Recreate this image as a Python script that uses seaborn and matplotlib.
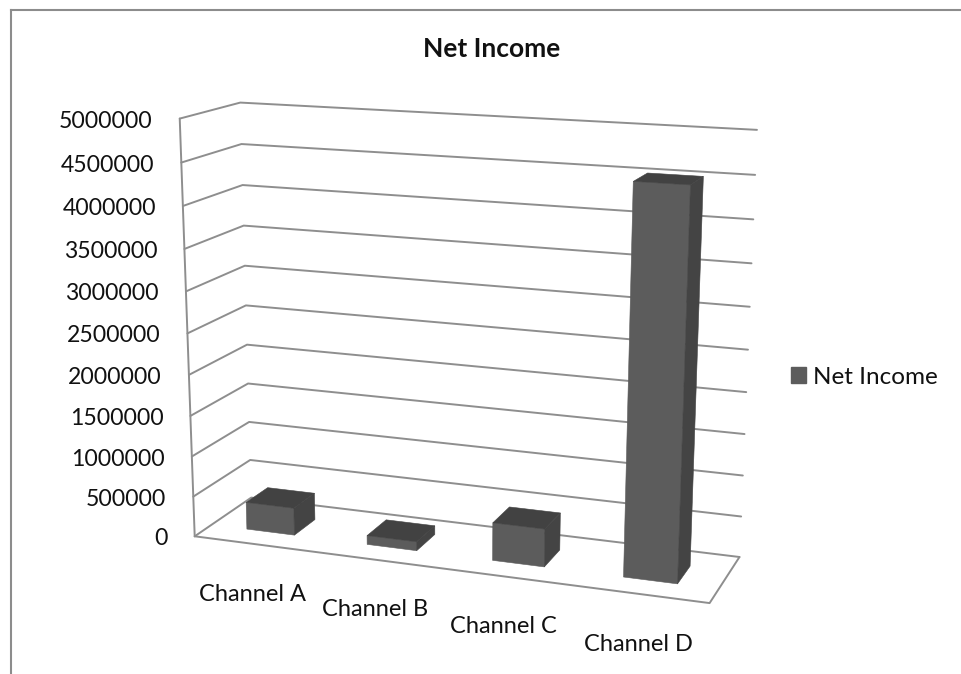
import numpy as np
import pandas as pd
import matplotlib
matplotlib.use("Agg")
import matplotlib.pyplot as plt
from matplotlib.patches import Patch
import seaborn as sns

# Chart content
title = "Net Income"
categories = ["Channel A", "Channel B", "Channel C", "Channel D"]
net_income = [340000, 110000, 460000, 4530000]
tick_values = [0, 500000, 1000000, 1500000, 2000000, 2500000,
               3000000, 3500000, 4000000, 4500000, 5000000]
axis_max = 5000000

# Colours
GRID = "#8e8e8e"
FRAME = "#8c8c8c"
FRONT = "#5c5c5c"
SIDE = "#444444"
TOP = "#424242"

# Pixel positions of the plot box corners as (across, depth, height) -> (x, y)
box_world = np.array([(0, 0, 0), (0, 1, 0), (1, 1, 0), (1, 0, 0),
                      (0, 0, 1), (0, 1, 1), (1, 1, 1)], dtype=float)
box_pixel = np.array([(195, 536), (251, 498), (740, 556), (709, 604),
                      (180, 118), (240, 103), (757, 130)], dtype=float)


def fit_camera(world, pixel):
    """Solve the 3x4 perspective matrix from box corners."""
    rows = []
    for (a, b, c), (x, y) in zip(world, pixel):
        rows.append([a, b, c, 1, 0, 0, 0, 0, -x * a, -x * b, -x * c, -x])
        rows.append([0, 0, 0, 0, a, b, c, 1, -y * a, -y * b, -y * c, -y])
    return np.linalg.svd(np.array(rows))[2][-1].reshape(3, 4)


CAMERA = fit_camera(box_world, box_pixel)


def project(u, v, value):
    """Map category position, depth and value to figure pixels."""
    p = CAMERA @ np.array([u, v, value / axis_max, 1.0])
    return p[0] / p[2], p[1] / p[2]


sns.set_theme(style="white", rc={"axes.edgecolor": FRAME, "axes.linewidth": 1.5})
plt.rcParams["font.family"] = ["Lato", "DejaVu Sans"]

fig = plt.figure(figsize=(9.62, 6.74), dpi=100, facecolor="white")
ax = fig.add_axes([11 / 962, 0, 951 / 962, 664 / 674])

# Walls: each gridline runs front-left -> back-left -> back-right
grid_rows = []
for level in tick_values:
    for u, v in [(0, 0), (0, 1), (1, 1)]:
        x, y = project(u, v, level)
        grid_rows.append({"level": f"w{level}", "x": x, "y": y})
# Floor outline and the vertical value axis
for name, path in {
    "floor": [(0, 0, 0), (1, 0, 0), (1, 1, 0)],
    "axis": [(0, 0, 0), (0, 0, axis_max)],
}.items():
    for u, v, w in path:
        x, y = project(u, v, w)
        grid_rows.append({"level": name, "x": x, "y": y})
sns.lineplot(data=pd.DataFrame(grid_rows), x="x", y="y", units="level",
             estimator=None, sort=False, color=GRID, lw=1.4, ax=ax,
             legend=False, zorder=1)

# Bars
bar_width = 0.40
depth_front, depth_back = 0.29, 0.68
for i, value in enumerate(net_income):
    u0 = (i + 0.5) / len(categories) - bar_width / len(categories) / 2
    u1 = u0 + bar_width / len(categories)
    faces = [
        ([(u0, depth_front, 0), (u1, depth_front, 0),
          (u1, depth_front, value), (u0, depth_front, value)], FRONT),
        ([(u1, depth_front, 0), (u1, depth_back, 0),
          (u1, depth_back, value), (u1, depth_front, value)], SIDE),
        ([(u0, depth_front, value), (u1, depth_front, value),
          (u1, depth_back, value), (u0, depth_back, value)], TOP),
    ]
    for corners, colour in faces:
        xy = np.array([project(*c) for c in corners])
        ax.fill(xy[:, 0], xy[:, 1], color=colour, lw=0.4, zorder=3 + i)

# Value labels sit left of the front edge
for level in tick_values:
    x, y = project(0, 0, level)
    ax.text(x - 27, y + 2.5, str(level), ha="right", va="center",
            fontsize=16.6, color="#111111", zorder=6)

# Category labels below the front edge of the floor
for i, name in enumerate(categories):
    x, y = project((i + 0.5) / len(categories), 0, 0)
    ax.text(x - 2, y + 50, name, ha="center", va="center",
            fontsize=17, color="#111111", zorder=6)

ax.text(491.5, 49, title, ha="center", va="center", fontsize=19,
        fontweight="bold", color="#111111")

ax.set(xlim=(11, 962), ylim=(674, 10), xlabel="", ylabel="",
       xticks=[], yticks=[])
sns.despine(ax=ax, top=False, right=True, bottom=True)

ax.legend(handles=[Patch(color=FRONT, label=title)], loc="center left",
          bbox_to_anchor=(791, 377), bbox_transform=ax.transData,
          frameon=False, fontsize=17.5, handlelength=0.62, handleheight=0.62,
          handletextpad=0.3, borderpad=0, borderaxespad=0,
          labelcolor="#111111")

fig.savefig("out.png", dpi=100, facecolor="white")
